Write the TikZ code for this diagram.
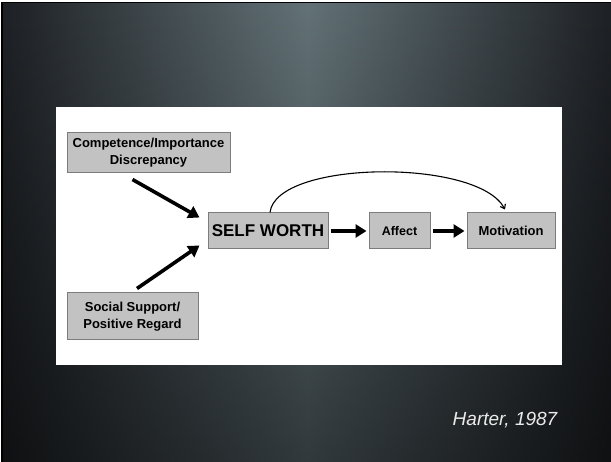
\documentclass[tikz,border=0pt]{standalone}
\usepackage{fontspec}
\setmainfont{Liberation Sans}
\usetikzlibrary{arrows.meta,fadings}
\definecolor{slateedge}{HTML}{1E2125}
\definecolor{slatemid}{HTML}{637277}
\definecolor{boxgray}{HTML}{C2C2C2}
\definecolor{boxline}{HTML}{7C7C7C}
\begin{document}
\begin{tikzpicture}[x=1pt,y=-1pt,
		factor/.style={draw=boxline,line width=1pt,fill=boxgray,align=center,inner sep=0pt,
			font=\bfseries\fontsize{13}{17}\selectfont,text=black},
		bigpush/.style={line width=3.6pt,-{Triangle[length=11pt,width=13pt]}},
		smallpush/.style={line width=1.1pt,-{Straight Barb[length=4pt,width=6pt]}}]
		\useasboundingbox (0,0) rectangle (611,462);
		\fill[white] (0,0) rectangle (611,462);
		\fill[black] (1,2) rectangle (611,462);
		\shade[left color=slateedge,right color=slateedge,middle color=slatemid] (3,4) rectangle (611,462);
		\fill[black,path fading=north,fill opacity=0.5] (3,4) rectangle (611,462);
		\fill[white] (56,107) rectangle (562,365);
		\node[factor,minimum width=163pt,minimum height=40pt] (comp) at (148.5,153) {Competence/Importance\\Discrepancy};
		\node[factor,minimum width=131pt,minimum height=47pt] (social) at (132.5,316.5) {Social Support/\\Positive Regard};
		\node[factor,minimum width=120pt,minimum height=36pt,font=\bfseries\fontsize{17}{20}\selectfont] (worth) at (268,231) {SELF WORTH};
		\node[factor,minimum width=61pt,minimum height=36pt,font=\bfseries\fontsize{12.5}{15}\selectfont] (affect) at (399.5,231) {Affect};
		\node[factor,minimum width=88pt,minimum height=36pt] (motiv) at (511,231) {Motivation};
		\draw[bigpush] ([xshift=-16pt,yshift=-6pt]comp.south) -- ([xshift=-8pt,yshift=-5pt]worth.north west);
		\draw[bigpush] ([xshift=4.5pt,yshift=4pt]social.north) -- ([xshift=-8pt,yshift=4pt]worth.south west);
		\draw[bigpush,shorten <=2pt,shorten >=2pt] (worth.east) -- (affect.west);
		\draw[bigpush,shorten <=2pt,shorten >=2pt] (affect.east) -- (motiv.west);
		\draw[smallpush] ([xshift=2pt]worth.north) .. controls (276,160) and (478,158) .. ([xshift=-6pt,yshift=3pt]motiv.north);
		\node[text=white!92!black,font=\itshape\fontsize{19}{22}\selectfont] (cite) at (505,420) {Harter, 1987};
		\end{tikzpicture}
\end{document}
